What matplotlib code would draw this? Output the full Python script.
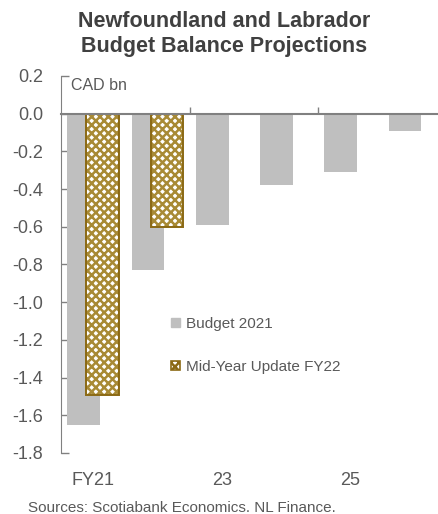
import numpy as np
import matplotlib
matplotlib.use("Agg")
import matplotlib.pyplot as plt
from matplotlib.patches import Patch

# Newfoundland and Labrador budget balance projections (CAD bn)
years = ["FY21", "22", "23", "24", "25", "26"]
tick_labels = ["FY21", "", "23", "", "25", ""]
budget_2021 = [-1.65, -0.83, -0.59, -0.38, -0.31, -0.09]
mid_year = [-1.49, -0.60]

plt.rcParams["font.family"] = ["Liberation Sans", "DejaVu Sans"]
plt.rcParams["axes.unicode_minus"] = False
plt.rcParams["hatch.linewidth"] = 1.8

grey = "#BFBFBF"
gold = "#A88A35"
gold_dark = "#8B6914"
txt = "#595959"

fig = plt.figure(figsize=(4.39, 5.14), dpi=100)
ax = fig.add_axes([0.139, 0.1187, 0.861, 0.7335])

x = np.arange(len(years))
w = 0.51
ax.bar(x - 0.148, budget_2021, width=w, color=grey, zorder=2)
# hatch fill, then darker outline
ax.bar(x[:len(mid_year)] + 0.148, mid_year, width=w, facecolor="white",
       edgecolor=gold, hatch="xxxx", linewidth=0, zorder=3)
ax.bar(x[:len(mid_year)] + 0.148, mid_year, width=w, facecolor="none",
       edgecolor=gold_dark, linewidth=1.4, zorder=3)

ax.set_ylim(-1.8, 0.2)
ax.set_xlim(-0.5, 5.38)
ax.set_yticks(np.arange(-1.8, 0.21, 0.2))
ax.yaxis.set_major_formatter(plt.FuncFormatter(lambda v, p: f"{v + 0.0:.1f}".replace("-0.0", "0.0")))
ax.tick_params(axis="y", direction="in", length=6, width=1, color="#808080",
               labelcolor=txt, labelsize=13, pad=13)

# zero line with category-boundary ticks
for s in ["top", "right"]:
    ax.spines[s].set_visible(False)
ax.spines["left"].set_color("#808080")
ax.spines["bottom"].set_position(("data", 0))
ax.spines["bottom"].set_color("#808080")
ax.spines["bottom"].set_linewidth(1.5)
ax.spines["bottom"].set_zorder(4)
ax.set_xticks([1.5, 3.5])
ax.tick_params(axis="x", direction="in", length=5, width=1, color="#808080",
               labelbottom=False)

# category labels at the bottom
sec = ax.secondary_xaxis("bottom")
sec.set_xticks(x)
sec.set_xticklabels(tick_labels)
sec.tick_params(length=0, labelsize=13, labelcolor=txt, pad=14)
sec.spines["bottom"].set_visible(False)

ax.text(0.026, 0.976, "CAD bn", transform=ax.transAxes, fontsize=11.5,
        color=txt, va="center", ha="left")

handles = [Patch(facecolor=grey, edgecolor=grey),
           Patch(facecolor="white", edgecolor=gold_dark, hatch="xxxx", linewidth=1.2)]
ax.legend(handles, ["Budget 2021", "Mid-Year Update FY22"], loc="upper left",
          bbox_to_anchor=(0.255, 0.398), frameon=False, fontsize=11,
          labelcolor=txt, handlelength=0.55, handleheight=0.55,
          handletextpad=0.4, labelspacing=1.9)

fig.text(0.51, 0.978, "Newfoundland and Labrador\nBudget Balance Projections",
         ha="center", va="top", fontsize=15.5, fontweight="bold",
         color="#404040", linespacing=1.2)
fig.text(0.064, 0.0117, "Sources: Scotiabank Economics. NL Finance.",
         ha="left", va="center", fontsize=11, color=txt)

fig.savefig("out.png", dpi=100)
